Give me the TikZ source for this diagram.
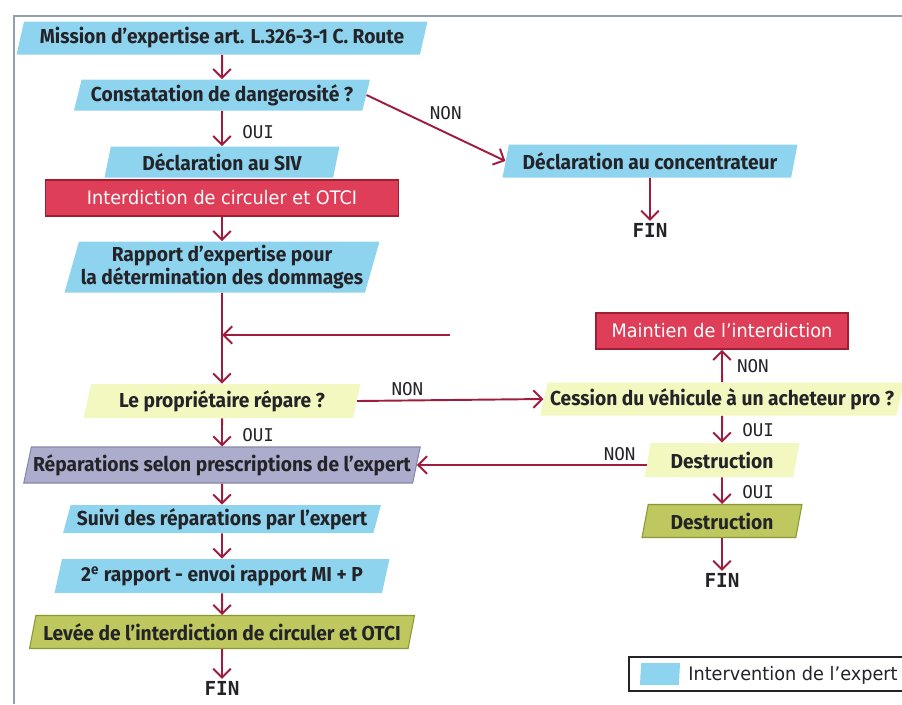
\documentclass[tikz,border=0pt]{standalone}
\usepackage{fontspec}
\setmainfont{Fira Sans}[FakeStretch=0.95]
\newfontfamily\lblfont{DejaVu Sans Mono}
\newfontfamily\redfont{DejaVu Sans}[FakeStretch=0.95]
\usepackage{tikz}
\usetikzlibrary{arrows.meta,shapes.geometric}
\definecolor{expblue}{RGB}{142,212,238}
\definecolor{qyellow}{RGB}{243,248,192}
\definecolor{redbox}{RGB}{222,62,88}
\definecolor{redline}{RGB}{160,30,50}
\definecolor{lavender}{RGB}{172,172,205}
\definecolor{lavline}{RGB}{135,135,170}
\definecolor{olive}{RGB}{190,200,95}
\definecolor{oliveline}{RGB}{140,150,55}
\definecolor{flowred}{RGB}{160,28,62}
\definecolor{textgray}{RGB}{35,35,40}
\definecolor{framegray}{RGB}{150,160,170}

\begin{document}
\begin{tikzpicture}[x=0.02cm,y=-0.02cm]
        \tikzset{para/.style = {trapezium,trapezium left angle=73,trapezium right angle=107,trapezium stretches body,inner sep=1pt,text=textgray,font=\fontsize{11.5}{11.8}\selectfont\bfseries}}
        \tikzset{expert/.style = {para,fill=expblue}}
        \tikzset{question/.style = {para,fill=qyellow}}
        \tikzset{travaux/.style = {para,fill=lavender,draw=lavline,line width=0.6pt}}
        \tikzset{levee/.style = {para,fill=olive,draw=oliveline,line width=0.6pt}}
        \tikzset{interdit/.style = {rectangle,fill=redbox,draw=redline,line width=1pt,text=white,font=\redfont\fontsize{10.6}{12}\selectfont}}
        \tikzset{flow/.style = {draw=flowred,line width=1.1pt,-{Straight Barb[length=5pt,width=10pt]}}}
        \tikzset{lab/.style = {text=textgray,inner sep=2pt,font=\lblfont\fontsize{10}{12}\selectfont}}
        \tikzset{fin/.style = {text=textgray,inner sep=1pt,font=\lblfont\bfseries\fontsize{11}{12}\selectfont}}
        \useasboundingbox (0,0) rectangle (902,704);
        % frame
        \draw[framegray,line width=0.8pt] (14,704) -- (14,16) -- (902,16);
        % left column
        \node[expert,minimum width=8.22cm,minimum height=0.66cm] (mission) at (222,38) {Mission d’expertise art. L.326-3-1 C. Route};
        \node[expert,minimum width=5.92cm,minimum height=0.62cm] (constat) at (222,95) {Constatation de dangerosité ?};
        \node[expert,minimum width=4.70cm,minimum height=0.62cm] (siv) at (222,162) {Déclaration au SIV};
        \node[interdit,minimum width=7.06cm,minimum height=0.72cm] (interdiction) at (222,198) {Interdiction de circuler et OTCI};
        \node[expert,minimum width=6.20cm,minimum height=1.02cm,align=center] (rapport) at (222,267) {Rapport d’expertise pour\\la détermination des dommages};
        \node[question,minimum width=5.54cm,minimum height=0.68cm] (proprio) at (222,401) {Le propriétaire répare ?};
        \node[travaux,minimum width=7.76cm,minimum height=0.72cm] (reparations) at (222,465) {Réparations selon prescriptions de l’expert};
        \node[expert,minimum width=6.36cm,minimum height=0.56cm] (suivi) at (222,519) {Suivi des réparations par l’expert};
        \node[expert,minimum width=6.70cm,minimum height=0.68cm] (rapport2) at (222,576) {2\textsuperscript{e} rapport - envoi rapport MI + P};
        \node[levee,minimum width=7.70cm,minimum height=0.66cm] (levee) at (222,632) {Levée de l’interdiction de circuler et OTCI};
        \node[fin] (fin1) at (222,688) {FIN};
        % right column
        \node[expert,minimum width=5.90cm,minimum height=0.66cm] (concentrateur) at (650,161) {Déclaration au concentrateur};
        \node[fin] (fin2) at (650,230) {FIN};
        \node[interdit,minimum width=5.04cm,minimum height=0.72cm] (maintien) at (722,331) {Maintien de l’interdiction};
        \node[question,minimum width=7.28cm,minimum height=0.66cm] (cession) at (722,399) {Cession du véhicule à un acheteur pro ?};
        \node[question,minimum width=3.10cm,minimum height=0.68cm] (destruction1) at (722,460) {Destruction};
        \node[levee,minimum width=3.20cm,minimum height=0.66cm] (destruction2) at (722,521) {Destruction};
        \node[fin] (fin3) at (722,580) {FIN};
        \coordinate (retour) at (450,335);
        % legend
        \draw[textgray,line width=0.7pt] (629,657) rectangle (912,691);
        \node[expert,minimum width=0.80cm,minimum height=0.44cm] (legpara) at (660,674) {};
        \node[anchor=west,text=textgray,inner sep=0pt,font=\redfont\fontsize{10.6}{12}\selectfont] (legtexte) at (688,675) {Intervention de l’expert};
        % arrows
        \draw[flow] (mission) -- (constat);
        \draw[flow] (constat) -- node[lab,right=9pt,pos=0.6] {OUI} (siv);
        \draw[flow] (constat.east) -- node[lab,above right,pos=0.5,yshift=2pt,xshift=-6pt] {NON} (concentrateur.west);
        \draw[flow] (concentrateur) -- (fin2);
        \draw[flow] (interdiction) -- (rapport);
        \draw[flow] (rapport) -- (proprio);
        \draw[flow] (retour) -- (retour -| rapport.south);
        \draw[flow] (proprio) -- node[lab,right=9pt,pos=0.6] {OUI} (reparations);
        \draw[flow] (proprio.east) -- node[lab,above,pos=0.27] {NON} (cession.west);
        \draw[flow] (cession) -- node[lab,right=6pt,pos=0.5] {NON} (maintien);
        \draw[flow] (cession) -- node[lab,right=9pt,pos=0.55] {OUI} (destruction1);
        \draw[flow] (destruction1) -- node[lab,right=9pt,pos=0.55] {OUI} (destruction2);
        \draw[flow] (destruction2) -- (fin3);
        \draw[flow] (destruction1.west |- reparations.east) -- node[lab,above,pos=0.12] {NON} (reparations.east);
        \draw[flow] (reparations) -- (suivi);
        \draw[flow] (suivi) -- (rapport2);
        \draw[flow] (rapport2) -- (levee);
        \draw[flow] (levee) -- (fin1);
\end{tikzpicture}
\end{document}
